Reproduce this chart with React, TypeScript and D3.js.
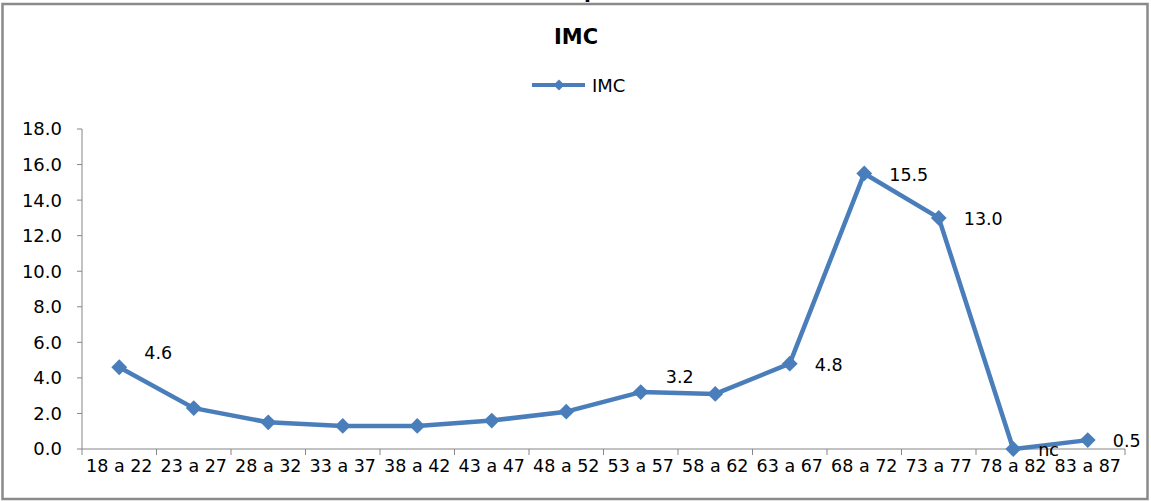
import React from "react";
import * as d3 from "d3";

// Age bands (years) on the horizontal axis
const categories = [
  "18 a 22", "23 a 27", "28 a 32", "33 a 37", "38 a 42", "43 a 47", "48 a 52",
  "53 a 57", "58 a 62", "63 a 67", "68 a 72", "73 a 77", "78 a 82", "83 a 87",
];

// IMC value per age band
const imcValues = [4.6, 2.3, 1.5, 1.3, 1.3, 1.6, 2.1, 3.2, 3.1, 4.8, 15.5, 13.0, 0.0, 0.5];

// Which points carry a data label; "nc" replaces the number for that band
const labelled = [true, false, false, false, false, false, false, true, false, true, true, true, true, true];
const labelOverride: (string | null)[] = [null, null, null, null, null, null, null, null, null, null, null, null, "nc", null];

const yTicks = [0, 2, 4, 6, 8, 10, 12, 14, 16, 18];

const W = 1151;
const H = 501;
const BLUE = "#4A7EBB";
const AXIS = "#868686";
const FONT = "'DejaVu Sans', sans-serif";

export default function App() {
  const plotLeft = 82;
  const plotRight = 1125;
  const plotTop = 129;
  const plotBottom = 449;

  const x = d3.scaleBand<string>().domain(categories).range([plotLeft, plotRight]);
  const y = d3.scaleLinear().domain([0, 18]).range([plotBottom, plotTop]);
  const cx = (c: string) => (x(c) as number) + x.bandwidth() / 2;

  const line = d3
    .line<number>()
    .x((_, i) => cx(categories[i]))
    .y((v) => y(v));

  const diamond = d3.symbol().type(d3.symbolDiamond2).size(160)() as string;

  // label placement: text start to the right of the marker, some raised above
  const labelDy = (i: number) => (i === 0 || i === 7 ? -15 : 1);

  return (
    <svg
      width={W}
      height={H}
      style={{ position: "absolute", left: 0, top: 0, background: "#fff" }}
      fontFamily={FONT}
    >
      <rect x={0} y={0} width={W} height={H} fill="#fff" />
      {/* heading above the chart, mostly outside the frame */}
      <text x={584} y={-2} fontSize={20} fontWeight="bold" fill="#000">p</text>
      <rect x={2.5} y={4} width={1145} height={495} fill="none" stroke="#8a8a8a" strokeWidth={2.5} />

      <text x={576} y={36} dy="0.36em" textAnchor="middle" fontSize={21} fontWeight="bold" fill="#000">IMC</text>

      {/* legend */}
      <g>
        <line x1={532} x2={585} y1={85} y2={85} stroke={BLUE} strokeWidth={4} />
        <path d={diamond} transform="translate(559,85) scale(0.7)" fill={BLUE} />
        <text x={592} y={85.5} dy="0.36em" fontSize={18} fill="#000">IMC</text>
      </g>

      {/* y axis */}
      <line x1={plotLeft} x2={plotLeft} y1={plotTop} y2={plotBottom} stroke={AXIS} />
      {yTicks.map((t) => (
        <g key={t}>
          <line x1={plotLeft - 5} x2={plotLeft} y1={y(t)} y2={y(t)} stroke={AXIS} />
          <text x={62} y={y(t)} dy="0.36em" textAnchor="end" fontSize={18} fill="#000">
            {t.toFixed(1)}
          </text>
        </g>
      ))}

      {/* x axis */}
      <line x1={plotLeft} x2={plotRight} y1={plotBottom} y2={plotBottom} stroke={AXIS} />
      {categories.map((c, i) => (
        <line
          key={"t" + i}
          x1={x(c) as number}
          x2={x(c) as number}
          y1={plotBottom}
          y2={plotBottom + 6}
          stroke={AXIS}
        />
      ))}
      <line x1={plotRight} x2={plotRight} y1={plotBottom} y2={plotBottom + 6} stroke={AXIS} />
      {categories.map((c) => (
        <text key={c} x={cx(c)} y={466} dy="0.36em" textAnchor="middle" fontSize={17.5} fill="#000">
          {c}
        </text>
      ))}

      {/* series */}
      <path d={line(imcValues) as string} fill="none" stroke={BLUE} strokeWidth={4.5} strokeLinejoin="round" />
      {imcValues.map((v, i) => (
        <path key={"m" + i} d={diamond} transform={`translate(${cx(categories[i])},${y(v)})`} fill={BLUE} />
      ))}

      {/* data labels */}
      {imcValues.map((v, i) =>
        labelled[i] ? (
          <text
            key={"l" + i}
            x={cx(categories[i]) + 25}
            y={y(v) + labelDy(i)}
            dy="0.36em"
            fontSize={17.5}
            fill="#000"
          >
            {labelOverride[i] ?? v.toFixed(1)}
          </text>
        ) : null
      )}
    </svg>
  );
}
